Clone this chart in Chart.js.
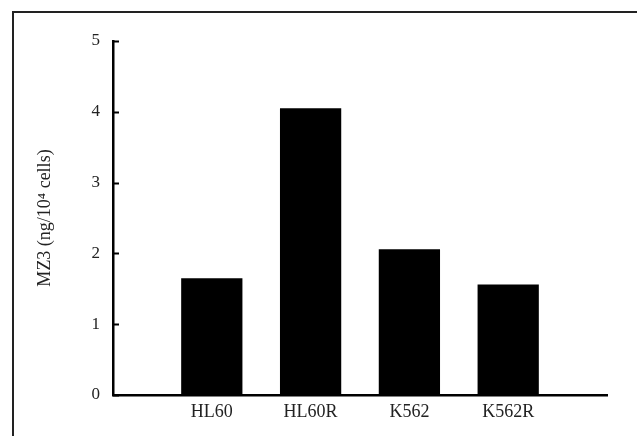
<!DOCTYPE html>
<html>
<head>
<meta charset="utf-8">
<script src="https://cdn.jsdelivr.net/npm/chart.js@4.4.0/dist/chart.umd.min.js"></script>
<style>
  html, body { margin: 0; padding: 0; background: #fff; overflow: hidden; }
  #frame {
    position: absolute; left: 12px; top: 11px; width: 640px; height: 440px;
    border-top: 2px solid #222; border-left: 2px solid #222;
  }
  #wrap { position: absolute; left: 0; top: 0; width: 637px; height: 436px; }
</style>
</head>
<body>
<div id="frame"></div>
<div id="wrap"><canvas id="myChart"></canvas></div>
<script>
// cell lines and measured MZ3 levels
const categories = ['HL60', 'HL60R', 'K562', 'K562R'];
const mz3Values = [1.65, 4.05, 2.06, 1.56];
const yTicks = [0, 1, 2, 3, 4, 5];
const yTitle = 'MZ3 (ng/10\u2074 cells)';

// empty slot at each end so the bars sit inside a longer axis
const labels = [''].concat(categories, ['']);
const values = [null].concat(mz3Values, [null]);

// small ticks pointing into the plot, like the original figure
const innerTicks = {
    id: 'innerTicks',
    afterDraw(chart) {
        const c = chart.ctx;
        const y = chart.scales.y;
        c.save();
        c.strokeStyle = '#000';
        c.lineWidth = 2;
        yTicks.forEach((v) => {
            let py = Math.round(y.getPixelForValue(v)) + 0.5;
            c.beginPath();
            c.moveTo(y.right, py);
            c.lineTo(y.right + 6, py);
            c.stroke();
        });
        c.restore();
    }
};

const ctx = document.getElementById('myChart').getContext('2d');
const myChart = new Chart(ctx, {
    type: 'bar',
    data: {
        labels: labels,
        datasets: [{
            data: values,
            backgroundColor: '#000',
            borderWidth: 0,
            categoryPercentage: 1,
            barPercentage: 0.62
        }]
    },
    options: {
        responsive: true,
        maintainAspectRatio: false,
        animation: false,
        layout: { padding: { left: 0, right: 30, top: 41, bottom: 0 } },
        plugins: {
            legend: { display: false },
            tooltip: { enabled: false }
        },
        scales: {
            x: {
                offset: false,
                grid: { display: false, drawTicks: false },
                border: { color: '#000', width: 2.5 },
                ticks: {
                    padding: 6,
                    color: '#222',
                    font: { family: 'Liberation Serif', size: 18 },
                    maxRotation: 0,
                    autoSkip: false
                },
                afterFit(scale) { scale.height = 41; }
            },
            y: {
                min: 0,
                max: 5,
                grid: { display: false, drawTicks: false },
                border: { color: '#000', width: 2.5 },
                afterBuildTicks(scale) { scale.ticks = yTicks.map((v) => ({ value: v })); },
                ticks: {
                    padding: 13,
                    color: '#222',
                    font: { family: 'Liberation Serif', size: 17 }
                },
                title: {
                    display: true,
                    text: yTitle,
                    color: '#222',
                    font: { family: 'Liberation Serif', size: 18 },
                    padding: { top: 34, bottom: 0 }
                },
                afterFit(scale) { scale.width = 113; }
            }
        }
    },
    plugins: [innerTicks]
});
</script>
</body>
</html>
